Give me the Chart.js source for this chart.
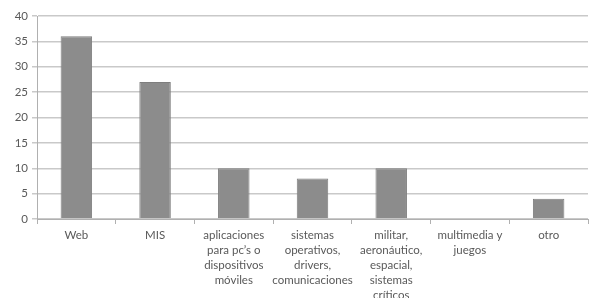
<!DOCTYPE html>
<html>
<head>
<meta charset="utf-8">
<script src="https://cdn.jsdelivr.net/npm/chart.js@4"></script>
<style>
  html, body { margin: 0; padding: 0; background: #fff; }
  #wrap { width: 590px; height: 298px; position: relative; }
</style>
</head>
<body>
<div id="wrap"><canvas id="chart"></canvas></div>
<script>
const categories = [
  'Web',
  'MIS',
  ['aplicaciones', 'para pc\u2019s o', 'dispositivos', 'm\u00f3viles'],
  ['sistemas', 'operativos,', 'drivers,', 'comunicaciones'],
  ['militar,', 'aeron\u00e1utico,', 'espacial,', 'sistemas', 'cr\u00edticos'],
  ['multimedia y', 'juegos'],
  'otro'
];
const values = [36, 27, 10, 8, 10, 0, 4];
const yTicks = [0, 5, 10, 15, 20, 25, 30, 35, 40];

const textColor = '#595959';
const gridColor = '#c9c9c9';

new Chart(document.getElementById('chart'), {
  type: 'bar',
  data: {
    labels: categories,
    datasets: [{
      data: values,
      backgroundColor: '#8c8c8c',
      borderColor: '#7e7e7e',
      borderWidth: 1,
      categoryPercentage: 1,
      barPercentage: 0.4
    }]
  },
  options: {
    responsive: true,
    maintainAspectRatio: false,
    animation: false,
    layout: { padding: { top: 16, right: 2, left: 0, bottom: 0 } },
    plugins: { legend: { display: false }, tooltip: { enabled: false } },
    scales: {
      x: {
        grid: { drawOnChartArea: false, drawTicks: true, tickLength: 5, color: '#b0b0b0', offset: true },
        border: { color: '#b0b0b0' },
        ticks: {
          color: textColor,
          font: { family: 'Lato', size: 11.5, lineHeight: 1.3 },
          padding: 4,
          maxRotation: 0,
          autoSkip: false
        },
        afterFit: (scale) => { scale.height = 79; }
      },
      y: {
        min: 0,
        max: 40,
        afterBuildTicks: (scale) => { scale.ticks = yTicks.map(v => ({ value: v })); },
        grid: { color: gridColor, tickLength: 5, lineWidth: 1.5 },
        border: { color: '#b0b0b0' },
        ticks: {
          color: textColor,
          font: { family: 'Lato', size: 11.5 },
          padding: 4
        },
        afterFit: (scale) => { scale.width = 37; }
      }
    }
  }
});
</script>
</body>
</html>
